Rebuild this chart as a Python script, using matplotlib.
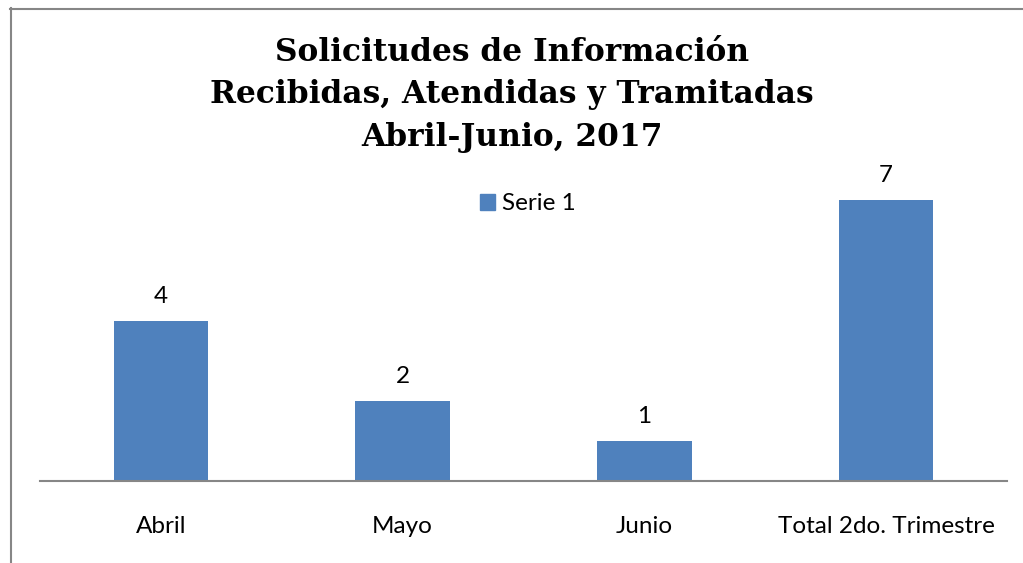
import matplotlib
matplotlib.use("Agg")
import matplotlib.pyplot as plt
from matplotlib.lines import Line2D
from matplotlib.patches import Patch

categories = ["Abril", "Mayo", "Junio", "Total 2do. Trimestre"]
values = [4, 2, 1, 7]
series_name = "Serie 1"
title = "Solicitudes de Información\nRecibidas, Atendidas y Tramitadas\nAbril-Junio, 2017"

W, H = 1023, 563
fig = plt.figure(figsize=(W / 100, H / 100), dpi=100)
fig.patch.set_facecolor("white")

# outer frame (left and top visible)
fig.add_artist(Line2D([10.5 / W, 10.5 / W], [0, 1 - 8 / H], transform=fig.transFigure, color="#868686", lw=1.5))
fig.add_artist(Line2D([10 / W, 1], [1 - 8.5 / H, 1 - 8.5 / H], transform=fig.transFigure, color="#868686", lw=1.5))

ax = fig.add_axes([40 / W, (H - 481) / H, (1007 - 40) / W, (481 - 160) / H])
x = list(range(len(categories)))
bars = ax.bar(x, values, width=0.39, color="#4F81BD", zorder=2)
ax.set_xlim(-0.5, len(categories) - 0.5)
ax.set_ylim(0, 8)
for s in ["top", "right", "left"]:
    ax.spines[s].set_visible(False)
ax.spines["bottom"].set_color("#868686")
ax.spines["bottom"].set_linewidth(1.5)
ax.set_yticks([])
ax.set_xticks(x)
ax.set_xticklabels(categories, fontsize=17.5, family="Lato")
ax.tick_params(axis="x", length=0, pad=25)
for xi, v in zip(x, values):
    ax.annotate(str(v), (xi, v), xytext=(0, 10), textcoords="offset points",
                ha="center", va="bottom", fontsize=17.5, family="Lato")

fig.text(512 / W, 1 - 95 / H, title, ha="center", va="center", fontsize=22.5,
         fontweight="bold", family="DejaVu Serif", linespacing=1.47)

leg = ax.legend(handles=[Patch(color="#4F81BD", label=series_name)],
                loc="center", bbox_to_anchor=(528 / W, 1 - 204 / H), bbox_transform=fig.transFigure,
                frameon=False, prop={"family": "Lato", "size": 17.5},
                handlelength=0.6, handleheight=0.6, handletextpad=0.3)

fig.savefig("out.png", dpi=100)
